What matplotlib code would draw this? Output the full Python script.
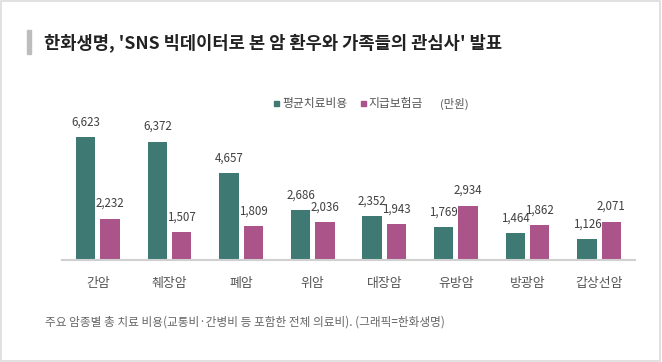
import numpy as np
import matplotlib
matplotlib.use("Agg")
from matplotlib import pyplot as plt
from matplotlib.patches import Rectangle

plt.rcParams['font.family'] = ['Noto Sans CJK KR', 'DejaVu Sans']

cancers = ["간암", "췌장암", "폐암", "위암", "대장암", "유방암", "방광암", "갑상선암"]
treat_cost = [6623, 6372, 4657, 2686, 2352, 1769, 1464, 1126]
insurance = [2232, 1507, 1809, 2036, 1943, 2934, 1862, 2071]
series_names = ["평균치료비용", "지급보험금"]

teal = "#3e7a73"
pink = "#aa548a"

fig = plt.figure(figsize=(6.62, 3.62), dpi=100)
fig.patch.set_facecolor("white")

# outer border
fig.patches.append(Rectangle((0.002, 0.003), 0.995, 0.994, transform=fig.transFigure,
                             fill=False, edgecolor="#dcdcdc", linewidth=1.2))
# title bar
fig.patches.append(Rectangle((27 / 662, 1 - 54 / 362), 4 / 662, 24 / 362,
                             transform=fig.transFigure, color="#bdbdbd"))
fig.text(44 / 662, 1 - 43 / 362, "한화생명, 'SNS 빅데이터로 본 암 환우와 가족들의 관심사' 발표",
         fontsize=12.7, fontweight="bold", color="#222222", va="center", ha="left")

ax = fig.add_axes([62 / 662, 1 - 260 / 362, 573 / 662, 148.6 / 362])
x = np.arange(len(cancers))
w = 0.27
off = 0.17
b1 = ax.bar(x - off, treat_cost, w, color=teal, label=series_names[0])
b2 = ax.bar(x + off, insurance, w, color=pink, label=series_names[1])

for bars in (b1, b2):
    for r in bars:
        v = r.get_height()
        ax.annotate(f"{v:,}", (r.get_x() + r.get_width() / 2, v), xytext=(0, 15),
                    textcoords="offset pixels", ha="center", va="center",
                    fontsize=8.3, color="#404040")

ax.set_xlim(-0.5, len(cancers) - 0.5)
ax.set_ylim(0, 8000)
ax.set_xticks(x)
ax.set_xticklabels(cancers, fontsize=9.3, color="#555555")
ax.tick_params(axis="x", length=0, pad=12)
ax.set_yticks([])
for s in ["top", "right", "left"]:
    ax.spines[s].set_visible(False)
ax.spines["bottom"].set_color("#d0d0d0")
ax.spines["bottom"].set_linewidth(1.5)

# legend
ly = 1 - 104 / 362
fig.patches.append(Rectangle((274 / 662, ly - 2.5 / 362), 5 / 662, 5 / 362,
                             transform=fig.transFigure, color=teal))
fig.text(282 / 662, ly, series_names[0], fontsize=8.5, color="#555555", va="center")
fig.patches.append(Rectangle((361 / 662, ly - 2.5 / 362), 5 / 662, 5 / 362,
                             transform=fig.transFigure, color=pink))
fig.text(368 / 662, ly, series_names[1], fontsize=8.5, color="#555555", va="center")
fig.text(440 / 662, ly, "(만원)", fontsize=8.2, color="#555555", va="center")

fig.text(45 / 662, 1 - 322 / 362, "주요 암종별 총 치료 비용(교통비·간병비 등 포함한 전체 의료비). (그래픽=한화생명)",
         fontsize=8.4, color="#666666", va="center")

fig.savefig("out.png", dpi=100)
